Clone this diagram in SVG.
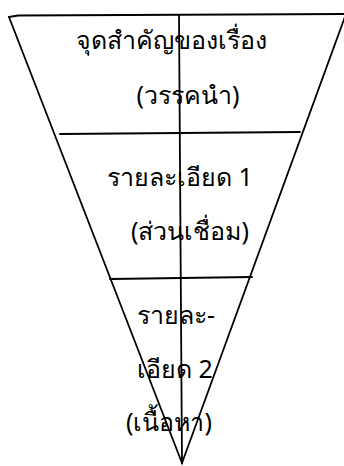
<svg xmlns="http://www.w3.org/2000/svg" width="344" height="466" viewBox="0 0 344 466">
<style>
.ln{stroke:#000;stroke-width:1.8;fill:none;stroke-linecap:round}
.t{font-family:"Noto Sans","DejaVu Sans",sans-serif;font-size:25px;fill:#000;text-anchor:middle}
</style>
<rect width="344" height="466" fill="#fff"/>
<g id="connectors">
<path class="ln" d="M9,17 L18,15.5 L346,14"/>
<path class="ln" d="M9,17 L182,463 L346,14"/>
<path class="ln" d="M179,15 L182,463"/>
<path class="ln" d="M60,134 L300,132"/>
<path class="ln" d="M110,279 L252,277"/>
</g>
<g id="node-top">
<text class="t" x="171" y="49">จุดสำคัญของเรื่อง</text>
<text class="t" x="188" y="104">(วรรคนำ)</text>
</g>
<g id="node-middle">
<text class="t" x="180" y="186">รายละเอียด 1</text>
<text class="t" x="190" y="240">(ส่วนเชื่อม)</text>
</g>
<g id="node-bottom">
<text class="t" x="176" y="324">รายละ-</text>
<text class="t" x="175" y="378">เอียด 2</text>
<text class="t" x="169" y="431">(เนื้อหา)</text>
</g>
</svg>
